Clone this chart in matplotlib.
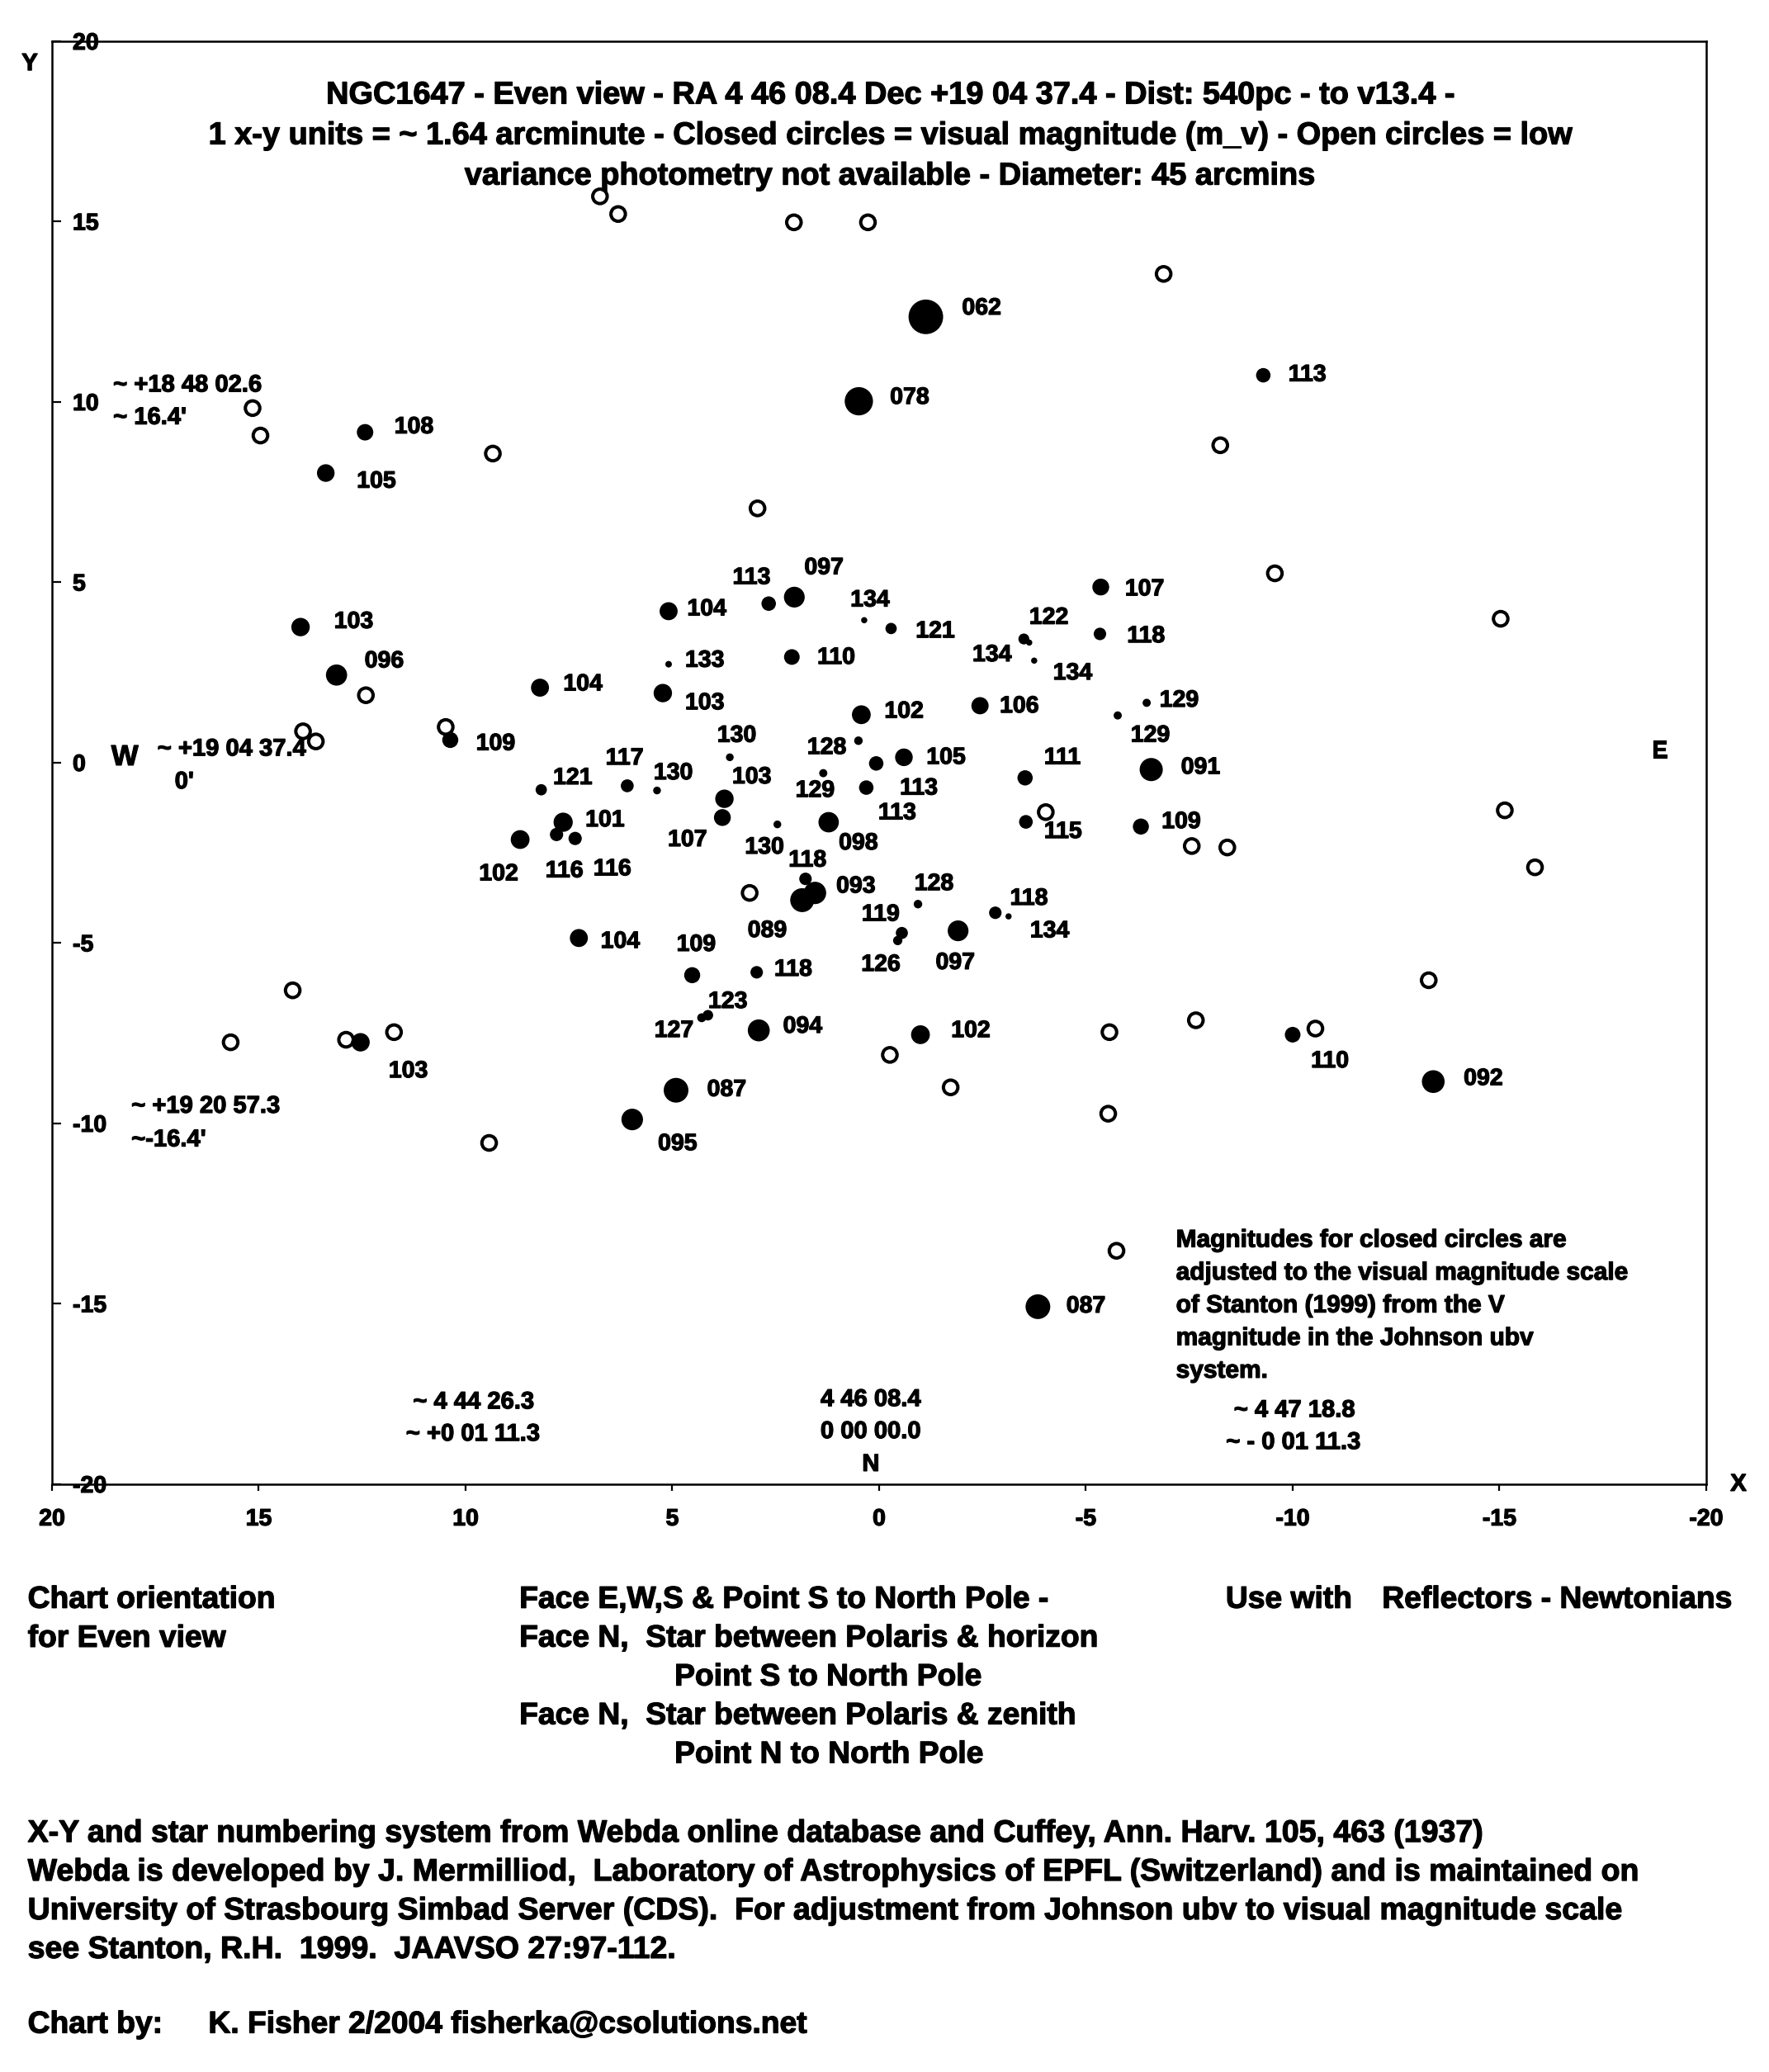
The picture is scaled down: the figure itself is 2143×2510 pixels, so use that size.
import matplotlib
matplotlib.use('Agg')
import matplotlib.pyplot as plt
import matplotlib.patheffects as pe
import matplotlib.text as mtext
import numpy as np

plt.rcParams['font.family'] = ['Liberation Sans', 'DejaVu Sans']
plt.rcParams['font.weight'] = 'bold'
plt.rcParams['axes.unicode_minus'] = False

# Closed circles: star labels are visual magnitude x 10 (e.g. '062' = 6.2)
star_labels = ['062', '078', '113', '108', '105', '103', '096', '109', '104', '121',
               '101', '116', '116', '102', '104', '104', '113', '097', '134', '121',
               '110', '133', '103', '102', '106', '107', '118', '122', '134', '134',
               '129', '129', '091', '130', '128', '105', '113', '113', '129', '111',
               '103', '107', '117', '130', '130', '098', '115', '109', '118', '093',
               '089', '128', '118', '134', '119', '126', '097', '109', '118', '123',
               '127', '094', '102', '087', '095', '087', '110', '092', '103']
star_x = [-1.13, 0.49, -9.29, 12.43, 13.38, 13.99, 13.12, 10.37, 8.20, 8.17,
          7.64, 7.80, 7.35, 8.68, 7.26, 5.09, 2.67, 2.05, 0.36, -0.29,
          2.11, 5.09, 5.23, 0.43, -2.44, -5.36, -5.34, -3.50, -3.63, -3.75,
          -5.77, -6.47, -6.58, 3.61, 0.50, -0.60, 0.07, 0.31, 1.35, -3.53,
          3.74, 3.79, 6.09, 5.37, 2.46, 1.22, -3.55, -6.33, 1.78, 1.55,
          1.86, -0.94, -2.81, -3.13, -0.55, -0.45, -1.91, 4.52, 2.96, 4.14,
          4.29, 2.91, -1.00, 4.91, 5.97, -3.84, -10.00, -13.40, 12.54]
star_y = [12.36, 10.02, 10.74, 9.16, 8.03, 3.76, 2.43, 0.63, 2.08, -0.75,
          -1.65, -1.99, -2.10, -2.13, -4.86, 4.20, 4.41, 4.59, 3.95, 3.72,
          2.93, 2.73, 1.93, 1.33, 1.58, 4.87, 3.57, 3.43, 3.33, 2.83,
          1.31, 1.66, -0.19, 0.15, 0.61, 0.15, -0.02, -0.69, -0.29, -0.42,
          -1.00, -1.52, -0.64, -0.77, -1.71, -1.65, -1.64, -1.77, -3.22, -3.61,
          -3.81, -3.92, -4.16, -4.26, -4.72, -4.93, -4.66, -5.89, -5.81, -7.00,
          -7.07, -7.42, -7.54, -9.08, -9.89, -15.08, -7.54, -8.84, -7.75]

# Open circles (no photometry)
open_x = [15.15, 14.96, 9.34, 6.75, 6.31, 2.06, 0.27, -6.88, -8.25, 2.94,
          -9.57, -15.03, 12.41, 13.93, 13.62, 10.48, -4.03, -15.13, -15.86, -7.56,
          -8.42, 3.13, -13.29, 14.18, 15.68, 12.89, 11.73, 9.43, -0.26, -5.57,
          -1.73, -5.54, -5.74, -7.66, -10.55]
open_y = [9.83, 9.07, 8.57, 15.70, 15.21, 14.98, 14.98, 13.55, 8.80, 7.05,
          5.25, 3.99, 1.87, 0.87, 0.59, 0.99, -1.37, -1.32, -2.90, -2.31,
          -2.35, -3.61, -6.03, -6.31, -7.75, -7.68, -7.47, -10.54, -8.10, -7.47,
          -9.00, -9.73, -13.53, -7.14, -7.37]

# where each star number sits relative to its star (points)
label_offsets = [(48.6, 7.1), (44.3, 2.8), (38.3, 0), (42.6, 4.2), (44.1, -7.7),
                 (46.3, 4.2), (41.5, 11.7), (39.5, -3.7), (37.3, 2.6), (27.4, 9.9),
                 (36.4, 1.4), (6.7, -32.2), (32.3, -27.1), (-18.8, -30.5), (36, -3.5),
                 (33.2, 1.4), (-15, 22.2), (25.8, 25.1), (5, 17.1), (38.5, -2.8),
                 (38.6, -0.9), (31.5, 2.8), (36.5, -9.1), (37.2, 2.4), (34.2, -0.9),
                 (38.2, -2.3), (40.1, -2.3), (21.8, 18.2), (-32.5, -11.2), (33.5, -11.4),
                 (28.4, -17.9), (28.3, 1.7), (43, 1.4), (6, 18.5), (-27.6, -6.5),
                 (36.7, -0.7), (37.1, -22.1), (26.9, -22.6), (-7.2, -15.6), (32.4, 17.1),
                 (23.8, 18.5), (-30.5, -19.9), (-2.4, 23.6), (14.1, 14.8), (-11.3, -20.4),
                 (25.9, -18.7), (32.3, -9), (35.1, 3.7), (1.7, 15.8), (35.6, 5.3),
                 (-30.5, -27.1), (14, 17.3), (29.3, 12), (35.8, -13.2), (-18.6, 15.7),
                 (-14.8, -21.4), (-2.5, -28.3), (3.4, 26.2), (31.8, 2), (17.4, 11.4),
                 (-24.2, -11.7), (38.2, 3), (43.8, 3), (44.2, 0), (39.5, -21.7),
                 (41.9, 0), (32.4, -23.5), (43.6, 2.1), (41.6, -25.6)]

title_lines = ['NGC1647 - Even view - RA 4 46 08.4 Dec +19 04 37.4 - Dist: 540pc - to v13.4 -',
               '1 x-y units = ~ 1.64 arcminute - Closed circles = visual magnitude (m_v) - Open circles = low',
               'variance photometry not available - Diameter: 45 arcmins']
note_lines = ['Magnitudes for closed circles are',
              'adjusted to the visual magnitude scale',
              'of Stanton (1999) from the V',
              'magnitude in the Johnson ubv',
              'system.']
orient_lines = ['Face E,W,S & Point S to North Pole -',
                'Face N,  Star between Polaris & horizon',
                'Point S to North Pole',
                'Face N,  Star between Polaris & zenith',
                'Point N to North Pole']
orient_indent = [0.2936, 0.2936, 0.3813, 0.2936, 0.3813]
credit_lines = ['X-Y and star numbering system from Webda online database and Cuffey, Ann. Harv. 105, 463 (1937)',
                'Webda is developed by J. Mermilliod,  Laboratory of Astrophysics of EPFL (Switzerland) and is maintained on',
                'University of Strasbourg Simbad Server (CDS).  For adjustment from Johnson ubv to visual magnitude scale',
                'see Stanton, R.H.  1999.  JAAVSO 27:97-112.']

fig = plt.figure(figsize=(21.43, 25.10), dpi=100)
ax = fig.add_axes([0.0294, 0.2837, 0.9351, 0.6964])
ax.set_xlim(20, -20)
ax.set_ylim(-20, 20)
ax.set_xticks(np.arange(20, -21, -5))
ax.set_yticks(np.arange(-20, 21, 5))

for s in ax.spines.values():
    s.set_linewidth(1.8)
ax.tick_params(axis='x', direction='out', length=5.5, width=1.6, pad=16, labelsize=20.5)
ax.tick_params(axis='y', direction='in', length=8, width=1.6, pad=-18, labelsize=20.5)
plt.setp(ax.get_yticklabels(), ha='left')

# marker size from magnitude: brighter = bigger
mags = np.array([int(l) / 10 for l in star_labels])
diam_pt = (41.9 - 4.78 * (mags - 6.2)) * 0.72
ax.scatter(star_x, star_y, s=diam_pt ** 2, c='black', edgecolors='none', zorder=3)
ax.scatter(open_x, open_y, s=159, facecolors='none', edgecolors='black', linewidths=2.9, zorder=4)

for lbl, x, y, off in zip(star_labels, star_x, star_y, label_offsets):
    ax.annotate(lbl, (x, y), xytext=off, textcoords='offset points',
                ha='center', va='center', fontsize=20.5)

for i, line in enumerate(title_lines):
    ax.annotate(line, (-0.26, 18.50), xytext=(0, -i * 35.3), textcoords='offset points',
                ha='center', va='center', fontsize=27.3)

for i, line in enumerate(note_lines):
    ax.annotate(line, (-7.18, -13.24), xytext=(0, -i * 28.5), textcoords='offset points',
                ha='left', va='center', fontsize=21.5)

# coordinate notes on the chart
ax.text(18.52, 10.47, '~ +18 48 02.6', ha='left', va='center', fontsize=21)
ax.text(18.52, 9.57, "~ 16.4'", ha='left', va='center', fontsize=21)
ax.text(18.24, 0.15, 'W', ha='center', va='center', fontsize=25)
ax.text(17.45, 0.38, '~ +19 04 37.4', ha='left', va='center', fontsize=21)
ax.text(16.80, -0.53, "0'", ha='center', va='center', fontsize=21)
ax.text(-18.87, 0.33, 'E', ha='center', va='center', fontsize=21)
ax.text(18.08, -9.52, '~ +19 20 57.3', ha='left', va='center', fontsize=21)
ax.text(18.08, -10.45, "~-16.4'", ha='left', va='center', fontsize=21)
ax.text(11.27, -17.72, '~ 4 44 26.3', ha='left', va='center', fontsize=21)
ax.text(11.44, -18.61, '~ +0 01 11.3', ha='left', va='center', fontsize=21)
ax.text(0.20, -17.65, '4 46 08.4', ha='center', va='center', fontsize=21)
ax.text(0.20, -18.54, '0 00 00.0', ha='center', va='center', fontsize=21)
ax.text(0.20, -19.45, 'N', ha='center', va='center', fontsize=21)
ax.text(-8.58, -17.95, '~ 4 47 18.8', ha='left', va='center', fontsize=21)
ax.text(-8.39, -18.84, '~ - 0 01 11.3', ha='left', va='center', fontsize=21)

fig.text(0.9827, 0.2837, 'X', ha='center', va='center', fontsize=21)
fig.text(0.0168, 0.9693, 'Y', ha='center', va='center', fontsize=21)

# text block under the chart
fig.text(0.0157, 0.2278, 'Chart orientation', ha='left', va='center', fontsize=26.8)
fig.text(0.0157, 0.2090, 'for Even view', ha='left', va='center', fontsize=26.8)
for i, line in enumerate(orient_lines):
    fig.text(orient_indent[i], 0.2278 - i * 0.01870, line, ha='left', va='center', fontsize=26.8)
fig.text(0.6929, 0.2278, 'Use with', ha='left', va='center', fontsize=26.8)
fig.text(0.7813, 0.2278, 'Reflectors - Newtonians', ha='left', va='center', fontsize=26.8)
for i, line in enumerate(credit_lines):
    fig.text(0.0157, 0.1151 - i * 0.0187, line, ha='left', va='center', fontsize=27)
fig.text(0.0157, 0.0227, 'Chart by:', ha='left', va='center', fontsize=26.8)
fig.text(0.1178, 0.0227, 'K. Fisher 2/2004 fisherka@csolutions.net', ha='left', va='center', fontsize=26.8)

# the scanned original prints heavier than a plain bold face
for t in fig.findobj(mtext.Text):
    t.set_path_effects([pe.withStroke(linewidth=0.9, foreground='black')])

plt.savefig('out.png', dpi=100, facecolor='white')
